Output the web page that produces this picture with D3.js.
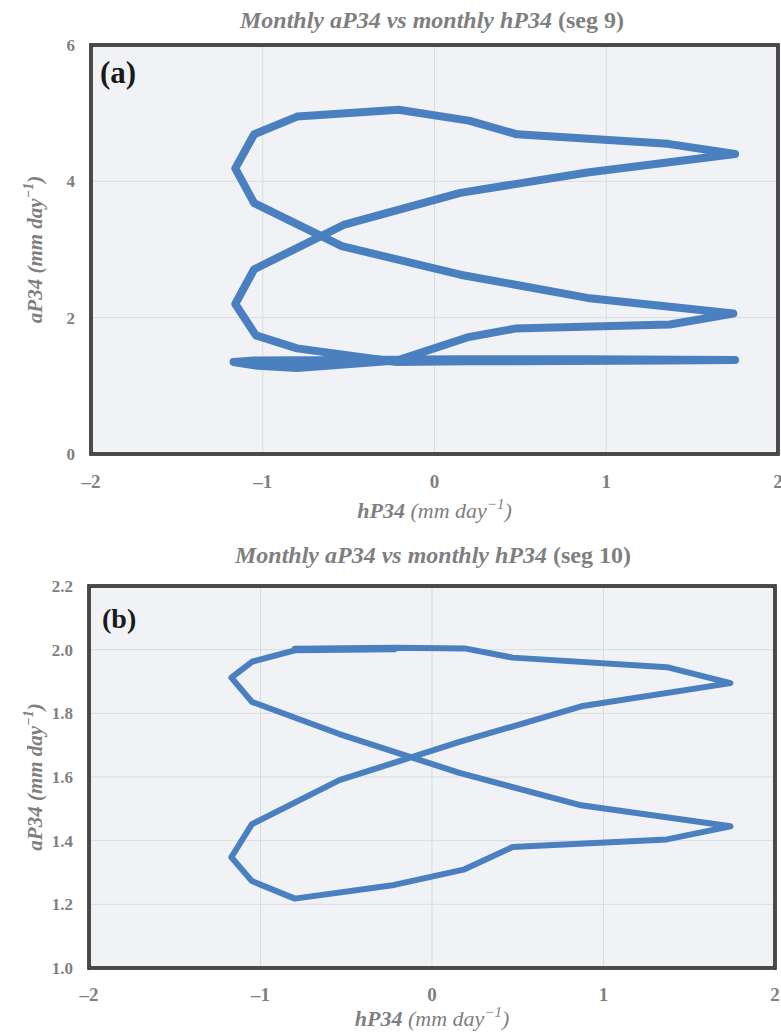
<!DOCTYPE html>
<html>
<head>
<meta charset="utf-8">
<script src="https://cdn.jsdelivr.net/npm/d3@7"></script>
<style>
  body { margin: 0; background: #fff; }
  text { font-family: "Liberation Serif", "Times New Roman", serif; }
</style>
</head>
<body>
<div id="chart"></div>
<script>
// seg 9 : monthly hP34 (x) and aP34 (y)
var hP34_seg9 = [-0.22, 0.19, 0.47, 1.37, 1.74, 0.89, 0.15, -0.54, -1.05, -1.16, -1.05, -0.80,
                 -0.21, 0.20, 0.48, 1.36, 1.75, 0.89, 0.15, -0.53, -1.05, -1.16, -1.04, -0.80,
                 -0.22, 0.19, 0.47, 1.37, 1.75, 0.87, 0.16, -0.54, -1.05, -1.17, -1.05, -0.80, -0.22];
var aP34_seg9 = [1.37, 1.71, 1.84, 1.90, 2.06, 2.29, 2.63, 3.05, 3.68, 4.19, 4.69, 4.95,
                 5.05, 4.89, 4.69, 4.55, 4.40, 4.13, 3.83, 3.36, 2.71, 2.20, 1.74, 1.55,
                 1.35, 1.36, 1.36, 1.37, 1.38, 1.39, 1.39, 1.38, 1.37, 1.35, 1.30, 1.26, 1.37];

// seg 10
var hP34_seg10 = [-0.80, -0.22, 0.19, 0.47, 1.37, 1.74, 0.87, 0.16, -0.54, -1.05, -1.17, -1.05,
                  -0.80, -0.22, 0.19, 0.47, 1.37, 1.74, 0.87, 0.16, -0.54, -1.05, -1.17, -1.05,
                  -0.80, -0.22];
var aP34_seg10 = [2.003, 2.006, 2.004, 1.975, 1.945, 1.895, 1.822, 1.71, 1.59, 1.452, 1.348, 1.273,
                  1.218, 1.261, 1.31, 1.38, 1.404, 1.445, 1.511, 1.613, 1.735, 1.836, 1.912, 1.962,
                  1.998, 2.001];

var xTicks = [-2, -1, 0, 1, 2];
var yTicks_a = [0, 2, 4, 6];
var yTicks_b = [1.0, 1.2, 1.4, 1.6, 1.8, 2.0, 2.2];

var width = 781, height = 1032;
var grey = "#7f7f7f";
var blue = "#4a7fc0";

var svg = d3.select("#chart")
    .append("svg")
    .attr("width", width)
    .attr("height", height);

function drawPanel(opt) {
    var x = d3.scaleLinear().domain([-2, 2]).range([opt.left, opt.right]);
    var y = d3.scaleLinear().domain(opt.yDomain).range([opt.bottom, opt.top]);
    var g = svg.append("g");

    // title
    var t = g.append("text")
        .attr("x", opt.titleX)
        .attr("y", opt.titleY)
        .attr("text-anchor", "middle")
        .style("font-size", "24px")
        .style("font-weight", "bold")
        .style("fill", grey);
    t.append("tspan").style("font-style", "italic").text("Monthly aP34 vs monthly hP34");
    t.append("tspan").text(" (" + opt.seg + ")");

    // plot background
    g.append("rect")
        .attr("x", opt.left).attr("y", opt.top)
        .attr("width", opt.right - opt.left).attr("height", opt.bottom - opt.top)
        .style("fill", "#f0f2f5");

    // grid
    g.selectAll(".vgrid")
        .data(xTicks.slice(1, -1))
        .enter().append("line")
        .attr("x1", function (d) { return x(d); })
        .attr("x2", function (d) { return x(d); })
        .attr("y1", opt.top).attr("y2", opt.bottom)
        .style("stroke", "#dadbdd").style("stroke-width", 1);
    g.selectAll(".hgrid")
        .data(opt.yTicks.slice(1, -1))
        .enter().append("line")
        .attr("y1", function (d) { return y(d); })
        .attr("y2", function (d) { return y(d); })
        .attr("x1", opt.left).attr("x2", opt.right)
        .style("stroke", "#dadbdd").style("stroke-width", 1);

    // the loop
    var pts = opt.xs.map(function (d, i) { return [d, opt.ys[i]]; });
    var line = d3.line()
        .x(function (d) { return x(d[0]); })
        .y(function (d) { return y(d[1]); });
    g.append("path")
        .datum(pts)
        .attr("d", line)
        .style("fill", "none")
        .style("stroke", blue)
        .style("stroke-width", opt.lw)
        .style("stroke-linejoin", "round")
        .style("stroke-linecap", "round");

    // frame
    g.append("rect")
        .attr("x", opt.left).attr("y", opt.top)
        .attr("width", opt.right - opt.left).attr("height", opt.bottom - opt.top)
        .style("fill", "none")
        .style("stroke", "#141414")
        .style("stroke-width", 3.5);
    g.append("rect")
        .attr("x", opt.left).attr("y", opt.top)
        .attr("width", opt.right - opt.left).attr("height", opt.bottom - opt.top)
        .style("fill", "none")
        .style("stroke", "#9a9a9a")
        .style("stroke-width", 0.8);

    // tick labels
    g.selectAll(".xt")
        .data(xTicks)
        .enter().append("text")
        .attr("x", function (d) { return x(d); })
        .attr("y", opt.xTickY)
        .attr("text-anchor", "middle")
        .style("font-size", "19px")
        .style("font-weight", "bold")
        .style("fill", grey)
        .text(function (d) { return d < 0 ? "\u2013" + Math.abs(d) : d; });
    g.selectAll(".yt")
        .data(opt.yTicks)
        .enter().append("text")
        .attr("x", opt.left - 16)
        .attr("y", function (d) { return y(d) + 6; })
        .attr("text-anchor", "end")
        .style("font-size", "17px")
        .style("font-weight", "bold")
        .style("fill", grey)
        .text(opt.yFormat);

    // axis titles
    var xt = g.append("text")
        .attr("x", (opt.left + opt.right) / 2)
        .attr("y", opt.xTitleY)
        .attr("text-anchor", "middle")
        .style("font-size", "22px")
        .style("font-style", "italic")
        .style("fill", grey);
    xt.append("tspan").style("font-weight", "bold").text("hP34");
    xt.append("tspan").text(" (mm day");
    xt.append("tspan").attr("dy", -9).style("font-size", "15px").text("\u22121");
    xt.append("tspan").attr("dy", 9).text(")");

    var yt = g.append("text")
        .attr("transform", "translate(42," + ((opt.top + opt.bottom) / 2) + ") rotate(-90)")
        .attr("text-anchor", "middle")
        .style("font-size", "21px")
        .style("font-style", "italic")
        .style("font-weight", "bold")
        .style("fill", grey);
    yt.append("tspan").text("aP34 (mm day");
    yt.append("tspan").attr("dy", -9).style("font-size", "14px").text("\u22121");
    yt.append("tspan").attr("dy", 9).text(")");

    // panel letter
    g.append("text")
        .attr("x", opt.left + opt.letterDx)
        .attr("y", opt.letterY)
        .style("font-size", opt.letterSize)
        .style("font-weight", "bold")
        .style("fill", "#1a1a1a")
        .text(opt.letter);
}

drawPanel({
    left: 91, right: 778, top: 45, bottom: 454,
    yDomain: [0, 6], yTicks: yTicks_a, yFormat: function (d) { return d; },
    xs: hP34_seg9, ys: aP34_seg9, lw: 8,
    seg: "seg 9", titleX: 432, titleY: 28,
    xTickY: 488, xTitleY: 518,
    letter: "(a)", letterDx: 9, letterY: 83, letterSize: "31px"
});

drawPanel({
    left: 89, right: 775, top: 586, bottom: 968,
    yDomain: [1.0, 2.2], yTicks: yTicks_b, yFormat: d3.format(".1f"),
    xs: hP34_seg10, ys: aP34_seg10, lw: 6,
    seg: "seg 10", titleX: 433, titleY: 563,
    xTickY: 1001, xTitleY: 1026,
    letter: "(b)", letterDx: 13, letterY: 628, letterSize: "28px"
});
</script>
</body>
</html>
